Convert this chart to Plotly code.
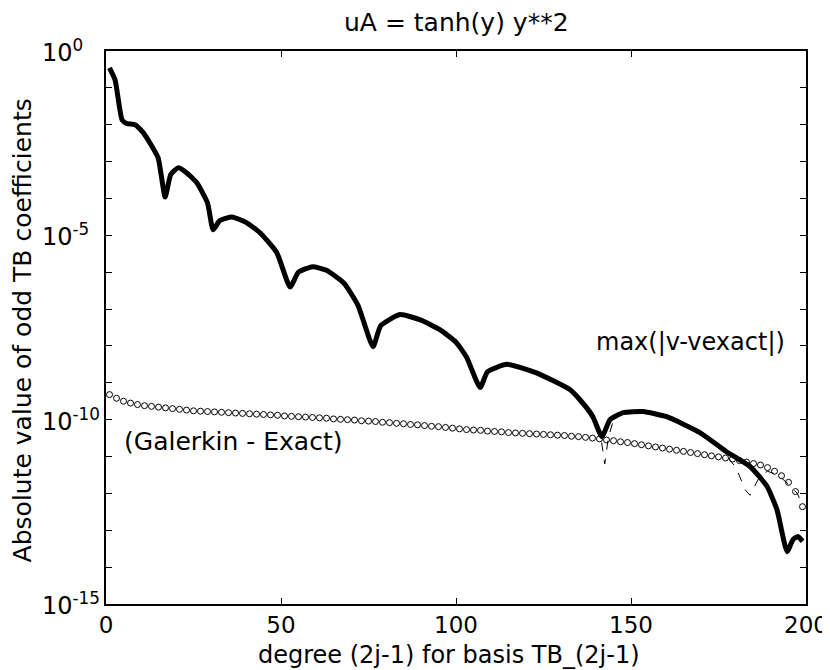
import plotly.graph_objects as go

# Thick line: max(|v - vexact|), values read as log10 exponents
thick_x = [1, 2.6, 4.6, 6, 8.3, 10.5, 12.6, 14.9, 16.9, 18.5, 20.6, 23, 26, 29, 30.6, 32.5,
           36, 40, 44, 48.8, 52.6, 55, 59, 63, 68, 72, 76.3, 78.5, 84, 90, 95.4, 100, 103,
           106.9, 109, 114.6, 123, 132.6, 135.4, 139, 141.7, 144, 147.8, 153.4, 160.2,
           169.7, 177.3, 184, 188.8, 191.7, 194.6, 196.3, 197.7, 199]
thick_exp = [-0.46, -0.79, -1.87, -1.97, -2.0, -2.2, -2.5, -2.9, -3.96, -3.35, -3.17, -3.3,
             -3.58, -4.12, -4.85, -4.6, -4.5, -4.65, -4.93, -5.47, -6.4, -6.0, -5.85, -5.95,
             -6.3, -6.9, -8.02, -7.45, -7.15, -7.3, -7.56, -7.9, -8.3, -9.13, -8.7, -8.5,
             -8.73, -9.19, -9.46, -9.9, -10.46, -10.0, -9.81, -9.78, -9.92, -10.35, -10.87,
             -11.27, -11.8, -12.44, -13.58, -13.25, -13.17, -13.3]

# Circles: (Galerkin - Exact) at odd degrees
gal_x = list(range(1, 200, 2))
gal_exp = [-9.32, -9.42, -9.50, -9.55, -9.59, -9.62, -9.64, -9.66, -9.68, -9.70,
           -9.72, -9.74, -9.76, -9.77, -9.78, -9.79, -9.80, -9.81, -9.82, -9.83,
           -9.84, -9.85, -9.86, -9.87, -9.88, -9.90, -9.91, -9.92, -9.93, -9.94,
           -9.95, -9.96, -9.98, -9.99, -10.00, -10.01, -10.03, -10.04, -10.05, -10.07,
           -10.08, -10.10, -10.11, -10.13, -10.14, -10.16, -10.18, -10.19, -10.21, -10.23,
           -10.25, -10.27, -10.28, -10.29, -10.31, -10.32, -10.33, -10.35, -10.36, -10.37,
           -10.38, -10.39, -10.40, -10.41, -10.42, -10.43, -10.45, -10.46, -10.48, -10.50,
           -10.52, -10.55, -10.57, -10.60, -10.62, -10.65, -10.68, -10.71, -10.74, -10.77,
           -10.80, -10.83, -10.86, -10.89, -10.92, -10.95, -10.98, -11.01, -11.04, -11.07,
           -11.11, -11.15, -11.19, -11.23, -11.30, -11.40, -11.52, -11.70, -11.95, -12.36]

# Thin dashed line
dash_x = [130, 134, 138, 140, 141.5, 142.5, 143.5, 145, 148, 153, 160, 165, 168, 171,
          173.5, 177, 180, 182.6, 184, 185.4, 187, 189, 192, 195, 197.5, 199]
dash_exp = [-9.08, -9.3, -9.85, -10.2, -10.55, -11.2, -10.5, -10.0, -9.82, -9.78, -9.92,
            -10.1, -10.22, -10.4, -10.62, -10.95, -11.3, -11.9, -12.05, -11.8, -11.5,
            -11.4, -11.5, -11.75, -12.0, -12.3]

ytick_exps = list(range(0, -16, -1))
ylabel_exps = [0, -5, -10, -15]
xtick_vals = [0, 50, 100, 150, 200]

TITLE = "uA = tanh(y) y**2"
XTITLE = "degree (2j-1) for basis TB_(2j-1)"
YTITLE = "Absolute value of odd TB coefficients"

FONT = "DejaVu Sans, Liberation Sans, sans-serif"
BLACK = "black"

fig = go.Figure()
fig.add_trace(go.Scatter(
    x=dash_x, y=[10 ** e for e in dash_exp], mode="lines",
    line=dict(color=BLACK, width=1, dash="dash"), showlegend=False))
fig.add_trace(go.Scatter(
    x=gal_x, y=[10 ** e for e in gal_exp], mode="markers",
    marker=dict(symbol="circle-open", size=6, color=BLACK, line=dict(width=1)),
    showlegend=False))
fig.add_trace(go.Scatter(
    x=thick_x, y=[10 ** e for e in thick_exp], mode="lines",
    line=dict(color=BLACK, width=5, shape="spline", smoothing=0.5), showlegend=False))

# in-plot labels
fig.add_annotation(x=139.5, y=-7.9, xref="x", yref="y", text="max(|v-vexact|)",
                   showarrow=False, xanchor="left", yanchor="middle",
                   font=dict(family=FONT, size=24, color=BLACK))
fig.add_annotation(x=4.5, y=-10.58, xref="x", yref="y", text="(Galerkin - Exact)",
                   showarrow=False, xanchor="left", yanchor="middle",
                   font=dict(family=FONT, size=25, color=BLACK))

# y tick labels (MATLAB style, left aligned)
for e in ylabel_exps:
    fig.add_annotation(x=-0.094, y=e, xref="paper", yref="y",
                       text="10<sup>%d</sup>" % e, showarrow=False,
                       xanchor="left", yanchor="middle",
                       font=dict(family=FONT, size=24, color=BLACK))

# title and axis titles
fig.add_annotation(x=0.5, y=1.052, xref="paper", yref="paper", text=TITLE,
                   showarrow=False, xanchor="center", yanchor="middle",
                   font=dict(family=FONT, size=25, color=BLACK))
fig.add_annotation(x=0.49, y=-0.092, xref="paper", yref="paper", text=XTITLE,
                   showarrow=False, xanchor="center", yanchor="middle",
                   font=dict(family=FONT, size=24, color=BLACK))
fig.add_annotation(x=-0.118, y=0.4955, xref="paper", yref="paper", text=YTITLE,
                   showarrow=False, xanchor="center", yanchor="middle", textangle=-90,
                   font=dict(family=FONT, size=25, color=BLACK))

# the page adds an 8px body margin, so the figure is 8px smaller and shifted
fig.update_layout(
    width=822, height=662,
    margin=dict(l=98, r=24, t=43, b=66, autoexpand=False),
    paper_bgcolor="white", plot_bgcolor="white",
    font=dict(family=FONT, size=23, color=BLACK),
)
fig.update_xaxes(
    range=[0, 200], tickvals=xtick_vals, ticktext=[str(v) for v in xtick_vals],
    ticks="inside", ticklen=6, tickcolor=BLACK, showline=True, linecolor=BLACK,
    linewidth=1.5, mirror="ticks", showgrid=False, zeroline=False, automargin=False,
    tickfont=dict(family=FONT, size=23), ticklabelstandoff=0)
fig.update_yaxes(
    type="log", range=[-15, 0],
    tickvals=[10 ** e for e in ytick_exps],
    ticktext=["" for e in ytick_exps],
    ticks="inside", ticklen=6, tickcolor=BLACK, showline=True, linecolor=BLACK,
    linewidth=1.5, mirror="ticks", showgrid=False, zeroline=False, automargin=False)

fig.write_html("out.html")
